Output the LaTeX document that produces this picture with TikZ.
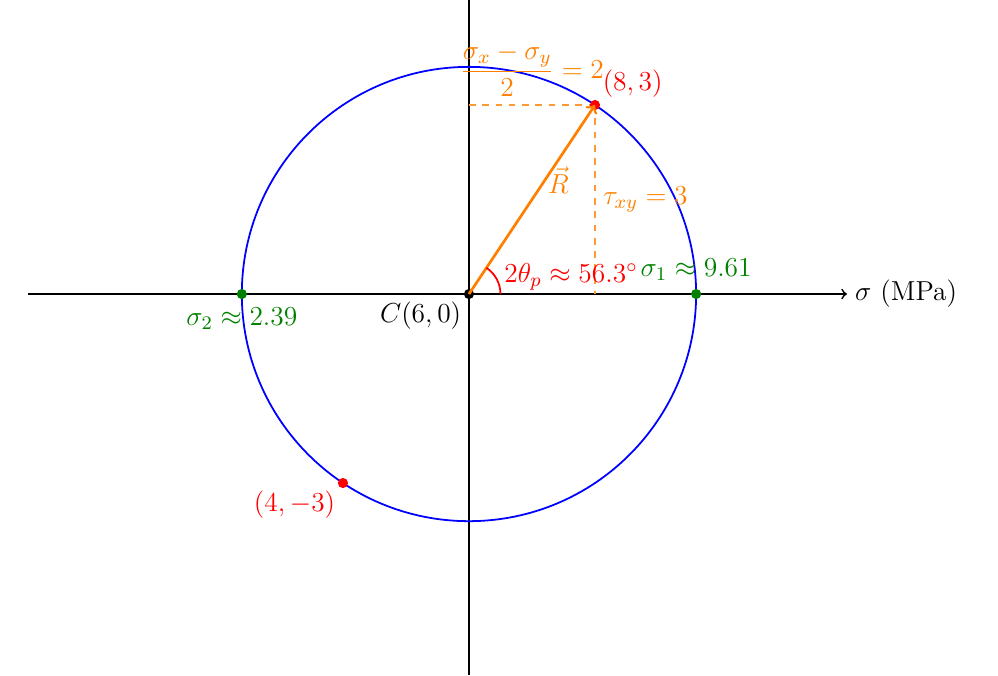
\RequirePackage{fix-cm}
\documentclass[tikz,border=0pt]{standalone}
\usepackage{amsmath}
\definecolor{mygreen}{RGB}{0,128,0}
\begin{document}
\begin{tikzpicture}[
  every node/.append style={font=\fontsize{12.4}{15}\selectfont},
  pt/.style={circle,fill,inner sep=0pt,minimum size=4.6pt},
  axisline/.style={thick},
  mohr/.style={blue,thick},
  guide/.style={orange!80,dashed,semithick}
]
\useasboundingbox (-7.444,-6.048) rectangle (8.397,4.667);
% axes
\coordinate (xs) at (-7,0);
\coordinate (xe) at (6,0);
\coordinate (ys) at (0,-6.048);
\coordinate (ye) at (0,4.667);
\draw[axisline,->] (xs) -- (xe) node[right,black] (xl) {$\sigma$ (MPa)};
\draw[axisline] (ys) -- (ye);
% circle
\draw[mohr] (0,0) circle (3.6056);
% guide points
\coordinate (Y) at (0,3);
\coordinate (X) at (2,0);
% dashed guides
\draw[guide] (Y) -- (2,3) node[midway,above,orange] (dx) {$\dfrac{\sigma_x-\sigma_y}{2}=2$};
\draw[guide] (2,3) -- (X) node[midway,right,orange] (dy) {$\tau_{xy}=3$};
% points
\node[pt,black] (C) at (0,0) {};
\node[pt,red] (P) at (2,3) {};
\node[pt,red] (Q) at (-2,-3) {};
\node[pt,mygreen] (S1) at (3.6056,0) {};
\node[pt,mygreen] (S2) at (-3.6056,0) {};
% vector R
\draw[orange,very thick,->] (C.center) -- (P.center) node[pos=0.6,right,inner sep=1pt] (R) {$\vec{R}$};
% angle
\draw[red,thick] (0.5,0) arc (0:56.31:0.5);
\node[red,anchor=base] (ang) at (1.62,0.19) {$2\theta_p\approx56.3^\circ$};
% labels
\node[above right,red] (Pl) at (P) {$(8,3)$};
\node[below left,red] (Ql) at (Q) {$(4,-3)$};
\node[above,mygreen] (S1l) at (S1.north) {$\sigma_1\approx9.61$};
\node[below,mygreen] (S2l) at (S2.south) {$\sigma_2\approx2.39$};
\node[below left] (Cl) at (C) {$C(6,0)$};
\end{tikzpicture}
\end{document}
